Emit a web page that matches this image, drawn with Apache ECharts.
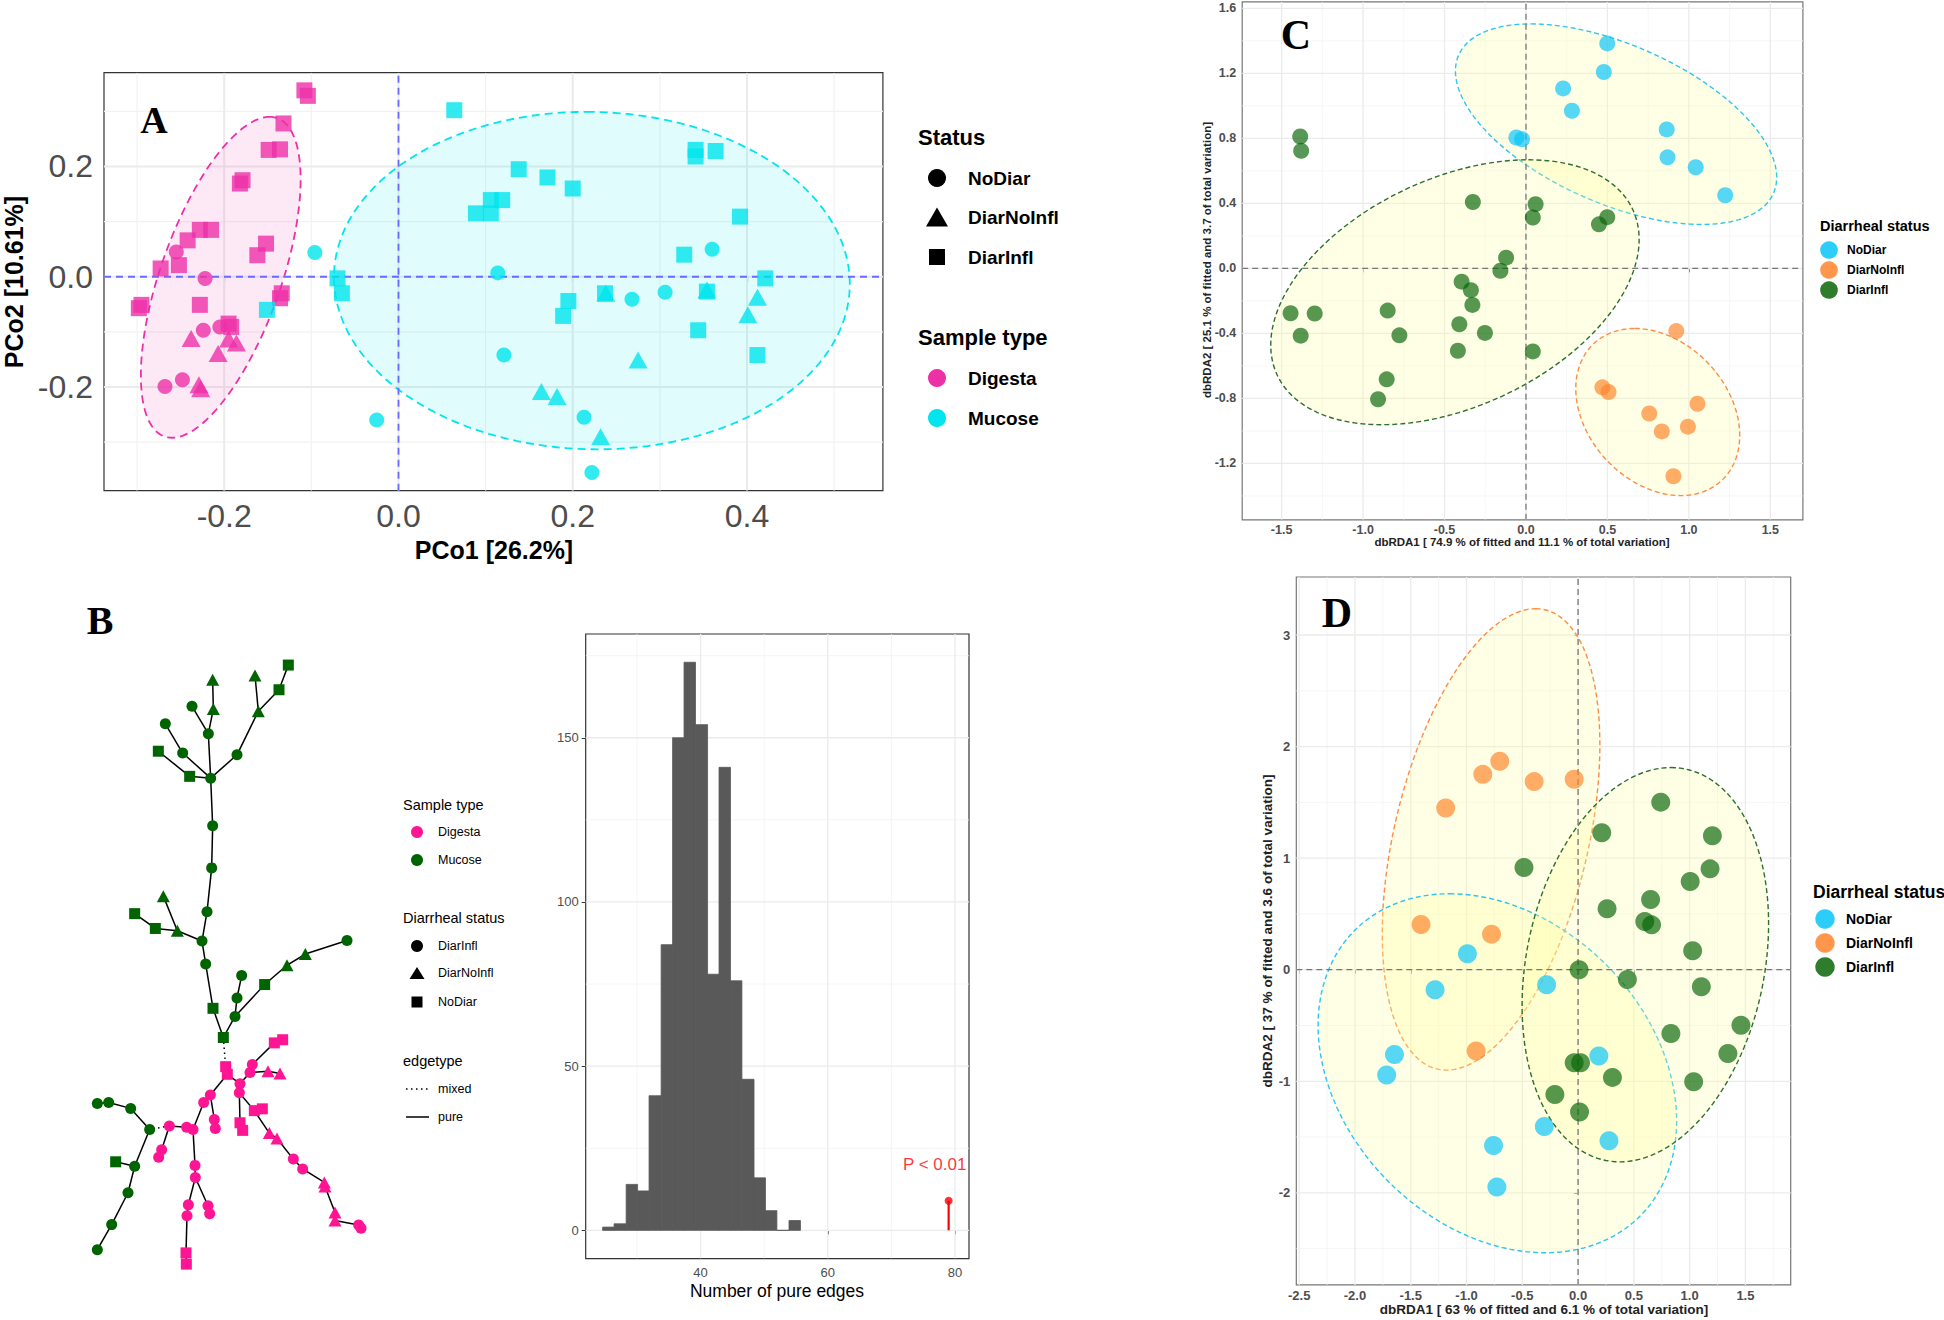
<!DOCTYPE html>
<html><head><meta charset="utf-8">
<script src="https://cdn.jsdelivr.net/npm/echarts@6/dist/echarts.min.js"></script>
<style>html,body{margin:0;padding:0;background:#fff}#c{width:1944px;height:1320px}</style>
</head><body><div id="c"></div>
<script>
// ---------------- Panel A data (PCoA) ----------------
const aXTicks = [-0.2, 0, 0.2, 0.4];
const aYTicks = [-0.2, 0, 0.2];
const aXMinor = [-0.3, -0.1, 0.1, 0.3, 0.5];
const aYMinor = [-0.3, -0.1, 0.1, 0.3];
const aDigestaSquare = [[-0.108,0.338],[-0.104,0.328],[-0.132,0.278],[-0.149,0.230],[-0.136,0.231],[-0.182,0.169],[-0.179,0.175],[-0.228,0.085],[-0.215,0.085],[-0.242,0.066],[-0.152,0.060],[-0.162,0.039],[-0.252,0.021],[-0.273,0.015],[-0.295,-0.051],[-0.298,-0.057],[-0.228,-0.051],[-0.134,-0.030],[-0.136,-0.039],[-0.195,-0.085],[-0.192,-0.091]];
const aDigestaCircle = [[-0.255,0.045],[-0.222,-0.003],[-0.224,-0.097],[-0.205,-0.091],[-0.268,-0.199],[-0.248,-0.187]];
const aDigestaTriangle = [[-0.238,-0.112],[-0.195,-0.113],[-0.186,-0.120],[-0.207,-0.139],[-0.229,-0.196],[-0.227,-0.203]];
const aMucoseSquare = [[0.064,0.302],[0.138,0.195],[0.171,0.180],[0.200,0.160],[0.106,0.139],[0.119,0.139],[0.089,0.115],[0.106,0.115],[0.341,0.230],[0.341,0.218],[0.364,0.228],[0.392,0.109],[0.328,0.040],[0.421,-0.003],[-0.070,-0.003],[-0.065,-0.030],[0.195,-0.044],[0.189,-0.071],[0.237,-0.030],[0.354,-0.027],[0.344,-0.097],[0.412,-0.142],[-0.151,-0.060]];
const aMucoseCircle = [[-0.096,0.044],[0.114,0.007],[0.360,0.050],[0.268,-0.041],[0.306,-0.028],[0.121,-0.142],[-0.025,-0.260],[0.213,-0.255],[0.222,-0.355]];
const aMucoseTriangle = [[0.238,-0.030],[0.354,-0.024],[0.412,-0.037],[0.401,-0.069],[0.275,-0.151],[0.164,-0.208],[0.182,-0.217],[0.232,-0.290]];
// ellipse: [centerX, centerY, topOffsetX, topOffsetY, horizontalHalfChord]
const aEllipseDigesta = [-0.204, -0.001, 0.056, 0.291, 0.0726];
const aEllipseMucose = [0.222, -0.007, -0.006, 0.306, 0.296];

// ---------------- Panel B data ----------------
// network nodes: [layoutX, layoutY, sampleType (D=Digesta, M=Mucose), status (c=DiarInfl, t=DiarNoInfl, s=NoDiar)]
const netNodes = [
 [685,145,'M','s'],[657,200,'M','s'],[585,168,'M','t'],[595,248,'M','t'],[458,178,'M','t'],[460,243,'M','t'],
 [396,237,'M','c'],[445,298,'M','c'],[316,276,'M','c'],[368,341,'M','c'],[295,337,'M','s'],[389,393,'M','s'],
 [452,397,'M','c'],[531,345,'M','c'],[458,503,'M','c'],[455,597,'M','c'],[441,695,'M','c'],[426,760,'M','c'],
 [352,737,'M','t'],[310,660,'M','t'],[286,732,'M','s'],[224,699,'M','s'],[437,811,'M','c'],[459,910,'M','s'],
 [490,975,'M','s'],[525,928,'M','c'],[531,887,'M','c'],[545,837,'M','c'],[614,857,'M','s'],[681,814,'M','t'],
 [736,789,'M','t'],[861,759,'M','c'],
 [497,1040,'D','s'],[502,1057,'D','s'],[540,1078,'D','c'],[538,1098,'D','c'],[570,1053,'D','c'],[577,1035,'D','c'],
 [643,987,'D','s'],[668,980,'D','s'],[624,1050,'D','t'],[660,1055,'D','t'],[540,1165,'D','s'],[548,1182,'D','s'],
 [583,1138,'D','s'],[607,1134,'D','s'],[628,1188,'D','t'],[651,1200,'D','t'],[700,1246,'D','c'],[728,1268,'D','c'],
 [793,1298,'D','t'],[795,1307,'D','t'],[825,1365,'D','t'],[825,1383,'D','t'],[896,1393,'D','c'],[903,1400,'D','c'],
 [451,1103,'D','c'],[431,1120,'D','c'],[463,1158,'D','c'],[466,1178,'D','c'],[380,1175,'D','c'],[399,1180,'D','c'],
 [328,1172,'D','c'],[305,1225,'D','c'],[296,1242,'D','c'],[405,1260,'D','c'],[406,1287,'D','c'],[385,1348,'D','c'],
 [381,1372,'D','c'],[444,1350,'D','c'],[449,1368,'D','c'],[378,1455,'D','s'],[379,1480,'D','s'],
 [269,1180,'M','c'],[212,1133,'M','c'],[146,1120,'M','c'],[112,1122,'M','c'],[224,1262,'M','c'],[167,1252,'M','s'],
 [204,1321,'M','c'],[155,1392,'M','c'],[112,1448,'M','c']
];
// links: [from, to, edgetype (p=pure, m=mixed)]
const netLinks = [
 [0,1,'p'],[1,3,'p'],[2,3,'p'],[3,13,'p'],[13,12,'p'],[4,5,'p'],[5,7,'p'],[6,7,'p'],[7,12,'p'],[8,9,'p'],[9,12,'p'],
 [10,11,'p'],[11,12,'p'],[12,14,'p'],[14,15,'p'],[15,16,'p'],[16,17,'p'],[17,18,'p'],[18,19,'p'],[18,20,'p'],[20,21,'p'],
 [17,22,'p'],[22,23,'p'],[23,24,'p'],[24,25,'p'],[25,26,'p'],[26,27,'p'],[25,28,'p'],[28,29,'p'],[29,30,'p'],[30,31,'p'],
 [24,32,'m'],
 [32,33,'p'],[33,34,'p'],[34,35,'p'],[34,36,'p'],[36,37,'p'],[37,38,'p'],[38,39,'p'],[36,40,'p'],[40,41,'p'],
 [35,42,'p'],[42,43,'p'],[35,44,'p'],[44,45,'p'],[44,46,'p'],[46,47,'p'],[47,48,'p'],[48,49,'p'],[49,50,'p'],[50,51,'p'],
 [51,52,'p'],[52,53,'p'],[53,54,'p'],[54,55,'p'],
 [33,56,'p'],[56,57,'p'],[56,58,'p'],[58,59,'p'],[57,61,'p'],[61,60,'p'],[60,62,'p'],[62,63,'p'],[63,64,'p'],[62,73,'m'],
 [61,65,'p'],[65,66,'p'],[66,67,'p'],[67,68,'p'],[68,71,'p'],[71,72,'p'],[66,69,'p'],[69,70,'p'],
 [73,74,'p'],[74,75,'p'],[75,76,'p'],[73,77,'p'],[77,78,'p'],[77,79,'p'],[79,80,'p'],[80,81,'p']
];
// histogram of pure edges under permutation
const histXTicks = [40, 60, 80];
const histYTicks = [0, 50, 100, 150];
const histXMinor = [30, 50, 70];
const histYMinor = [25, 75, 125, 175];
const histEdges = [24.6,26.4,28.3,30.1,31.9,33.8,35.6,37.4,39.2,41.1,42.9,44.7,46.5,48.4,50.2,52.0,53.9,55.7];
const histCounts = [1,2,14,12,41,87,150,173,154,78,141,76,46,16,6,0,3];
const observedPure = [[79,0],[79,9]];
const pLabel = [[76.8, 20, 'P < 0.01']];

// ---------------- Panel C data (dbRDA) ----------------
const cXTicks = [-1.5,-1.0,-0.5,0,0.5,1.0,1.5];
const cYTicks = [-1.2,-0.8,-0.4,0,0.4,0.8,1.2,1.6];
const cXMinor = [-1.25,-0.75,-0.25,0.25,0.75,1.25];
const cYMinor = [-1.4,-1.0,-0.6,-0.2,0.2,0.6,1.0,1.4];
const cNoDiar = [[0.499,1.384],[0.478,1.208],[0.228,1.107],[0.282,0.970],[-0.059,0.805],[-0.024,0.794],[0.864,0.855],[0.869,0.683],[1.042,0.622],[1.223,0.450]];
const cDiarNoInfl = [[0.923,-0.386],[0.469,-0.732],[0.507,-0.761],[0.757,-0.893],[1.053,-0.833],[0.834,-1.003],[0.994,-0.974],[0.905,-1.279]];
const cDiarInfl = [[-1.386,0.811],[-1.380,0.723],[-0.326,0.408],[0.059,0.395],[0.042,0.313],[0.448,0.271],[0.499,0.315],[-0.122,0.066],[-0.157,-0.015],[-0.395,-0.082],[-0.338,-0.134],[-0.329,-0.225],[-1.445,-0.276],[-1.297,-0.278],[-0.849,-0.260],[-1.383,-0.414],[-0.777,-0.412],[-0.409,-0.344],[-0.252,-0.397],[-0.418,-0.507],[0.042,-0.511],[-0.855,-0.683],[-0.908,-0.805]];
const cEllipseNoDiar = [0.553, 0.887, -0.523, 0.617, 0.836];
const cEllipseDiarInfl = [-0.436, -0.147, 0.451, 0.815, 1.037];
const cEllipseDiarNoInfl = [0.809, -0.884, -0.141, 0.514, 0.483];

// ---------------- Panel D data (dbRDA) ----------------
const dXTicks = [-2.5,-2.0,-1.5,-1.0,-0.5,0,0.5,1.0,1.5];
const dYTicks = [-2,-1,0,1,2,3];
const dXMinor = [-2.25,-1.75,-1.25,-0.75,-0.25,0.25,0.75,1.25,1.75];
const dYMinor = [-2.5,-1.5,-0.5,0.5,1.5,2.5];
const dNoDiar = [[-0.992,0.144],[-1.282,-0.179],[-0.282,-0.135],[-1.646,-0.760],[-1.716,-0.943],[0.186,-0.773],[-0.303,-1.406],[-0.758,-1.576],[0.277,-1.533],[-0.728,-1.948]];
const dDiarNoInfl = [[-0.702,1.869],[-0.854,1.751],[-0.394,1.686],[-0.035,1.707],[-1.187,1.450],[-1.408,0.406],[-0.776,0.319],[-0.914,-0.729]];
const dDiarInfl = [[0.741,1.502],[0.212,1.227],[1.204,1.201],[1.183,0.904],[-0.485,0.917],[1.005,0.790],[0.650,0.629],[0.260,0.546],[0.598,0.432],[0.659,0.402],[1.027,0.170],[0.009,0.000],[0.442,-0.087],[1.105,-0.153],[0.832,-0.572],[1.460,-0.498],[1.343,-0.751],[-0.035,-0.834],[0.022,-0.834],[0.308,-0.965],[1.036,-1.004],[-0.208,-1.118],[0.013,-1.275]];
const dEllipseDiarNoInfl = [-0.78, 1.168, 0.399, 2.068, 0.890];
const dEllipseNoDiar = [-0.7235, -0.928, -0.4285, 1.609, 1.549];
const dEllipseDiarInfl = [0.603, 0.045, 0.229, 1.767, 1.081];

// ---------------- styling ----------------
const FONT = '"Liberation Sans", Arial, Helvetica, sans-serif';
const SERIF = '"Liberation Serif", "Times New Roman", serif';
const MAG = '#EE30A7', CYAN = '#00E5EE';
const PINK_B = '#FF1493', GREEN_B = '#006400';
const BLUE = 'rgba(8,196,249,0.85)', ORANGE = 'rgba(255,132,43,0.85)', GREEN = 'rgba(8,102,8,0.85)';

const ranges = {
  A: {x: [-0.338, 0.556], y: [-0.388, 0.370]},
  N: {x: [0, 1260], y: [0, 1560]},
  H: {x: [21.94, 82.2], y: [-8.6, 181.6]},
  C: {x: [-1.742, 1.700], y: [-1.547, 1.640]},
  D: {x: [-2.526, 1.906], y: [-2.825, 3.520]}
};

function lineSeries(gi, r, xs, ys, style, z) {
  const data = xs.map(v => [v, r.y[0], 0]).concat(ys.map(v => [r.x[0], v, 1]));
  return {
    type: 'custom', xAxisIndex: gi, yAxisIndex: gi, z: z, silent: true, clip: true, data: data,
    renderItem: function (p, api) {
      const d = api.value(2);
      const v = d === 0 ? api.value(0) : api.value(1);
      const a = d === 0 ? api.coord([v, r.y[0]]) : api.coord([r.x[0], v]);
      const b = d === 0 ? api.coord([v, r.y[1]]) : api.coord([r.x[1], v]);
      return {type: 'line', shape: {x1: a[0], y1: a[1], x2: b[0], y2: b[1]}, style: style};
    }
  };
}

function ellipseSeries(gi, ells, z) {
  return {
    type: 'custom', xAxisIndex: gi, yAxisIndex: gi, z: z, silent: true, clip: true,
    data: ells.map(e => e.p),
    renderItem: function (p, api) {
      const e = ells[p.dataIndex];
      const cx = api.value(0), cy = api.value(1), ax = api.value(2), ay = api.value(3), bx = api.value(4);
      const pts = [];
      for (let i = 0; i < 160; i++) {
        const t = i / 160 * 2 * Math.PI;
        pts.push(api.coord([cx + ax * Math.cos(t) + bx * Math.sin(t), cy + ay * Math.cos(t)]));
      }
      return {type: 'polygon', shape: {points: pts},
        style: {fill: e.fill, stroke: e.stroke, lineWidth: e.lw, lineDash: e.dash}};
    }
  };
}

function scatter(gi, data, symbol, size, color, z) {
  return {type: 'scatter', xAxisIndex: gi, yAxisIndex: gi, data: data, symbol: symbol, symbolSize: size,
    itemStyle: {color: color}, z: z || 4, silent: true};
}

function valAxis(gi, r, ticks, fmt, font, margin, extra) {
  return Object.assign({
    gridIndex: gi, type: 'value', min: r[0], max: r[1],
    axisLine: {show: false}, splitLine: {show: false},
    axisTick: {show: true, customValues: ticks, length: 4, lineStyle: {color: '#333', width: 1}},
    axisLabel: {customValues: ticks, formatter: fmt, margin: margin,
      fontFamily: FONT, fontSize: font.size, fontWeight: font.weight, color: font.color}
  }, extra || {});
}

const f1 = v => Number(v).toFixed(1);
const fi = v => String(Math.round(v));

const grids = [
  {left: 104, top: 72.7, width: 778.9, height: 418, show: true, borderColor: '#333', borderWidth: 1.2, backgroundColor: '#fff'},
  {left: 60, top: 600, width: 420, height: 700},
  {left: 585.7, top: 634, width: 383.3, height: 624.6, show: true, borderColor: '#333', borderWidth: 1.2, backgroundColor: '#fff'},
  {left: 1242.2, top: 1.8, width: 560.7, height: 518, show: true, borderColor: '#777', borderWidth: 1.2, backgroundColor: '#fff'},
  {left: 1296.3, top: 577, width: 494.4, height: 707.9, show: true, borderColor: '#777', borderWidth: 1.2, backgroundColor: '#fff'}
];

const xAxes = [
  valAxis(0, ranges.A.x, aXTicks, f1, {size: 32, weight: 'normal', color: '#4d4d4d'}, 9, {axisTick: {show: true, customValues: aXTicks, length: 5, lineStyle: {color: '#333', width: 1.2}}}),
  {gridIndex: 1, type: 'value', min: 0, max: 1260, show: false},
  valAxis(2, ranges.H.x, histXTicks, fi, {size: 13, weight: 'normal', color: '#4d4d4d'}, 7),
  valAxis(3, ranges.C.x, cXTicks, f1, {size: 12.5, weight: 'bold', color: '#4d4d4d'}, 4),
  valAxis(4, ranges.D.x, dXTicks, f1, {size: 13, weight: 'bold', color: '#4d4d4d'}, 4)
];
const yAxes = [
  valAxis(0, ranges.A.y, aYTicks, f1, {size: 32, weight: 'normal', color: '#4d4d4d'}, 11, {axisTick: {show: true, customValues: aYTicks, length: 5, lineStyle: {color: '#333', width: 1.2}}}),
  {gridIndex: 1, type: 'value', min: 0, max: 1560, inverse: true, show: false},
  valAxis(2, ranges.H.y, histYTicks, fi, {size: 13, weight: 'normal', color: '#4d4d4d'}, 7),
  valAxis(3, ranges.C.y, cYTicks, f1, {size: 12.5, weight: 'bold', color: '#4d4d4d'}, 6),
  valAxis(4, ranges.D.y, dYTicks, fi, {size: 13, weight: 'bold', color: '#4d4d4d'}, 6)
];

const series = [];
// Panel A
series.push(lineSeries(0, ranges.A, aXMinor, aYMinor, {stroke: '#F2F2F2', lineWidth: 1.2}, 1));
series.push(lineSeries(0, ranges.A, aXTicks, aYTicks, {stroke: '#EBEBEB', lineWidth: 2}, 1));
series.push(ellipseSeries(0, [
  {p: aEllipseDigesta, fill: 'rgba(238,48,167,0.11)', stroke: MAG, lw: 1.8, dash: [8, 5]},
  {p: aEllipseMucose, fill: 'rgba(0,229,238,0.12)', stroke: CYAN, lw: 1.8, dash: [8, 5]}
], 2));
series.push(lineSeries(0, ranges.A, [0], [0], {stroke: '#6b6bff', lineWidth: 1.8, lineDash: [7, 5]}, 3));
series.push(scatter(0, aDigestaSquare, 'rect', 16, MAG));
series.push(scatter(0, aDigestaCircle, 'circle', 15, MAG));
series.push(scatter(0, aDigestaTriangle, 'triangle', [19, 17], MAG));
series.push(scatter(0, aMucoseSquare, 'rect', 16, CYAN));
series.push(scatter(0, aMucoseCircle, 'circle', 15, CYAN));
series.push(scatter(0, aMucoseTriangle, 'triangle', [19, 17], CYAN));

// Panel B network
const shapeMap = {c: 'circle', t: 'triangle', s: 'rect'};
const sizeMap = {c: 11, t: [13, 12], s: 11};
series.push({
  type: 'graph', coordinateSystem: 'cartesian2d', xAxisIndex: 1, yAxisIndex: 1, z: 3, silent: true,
  data: netNodes.map(n => ({value: [n[0], n[1]], symbol: shapeMap[n[3]], symbolSize: sizeMap[n[3]],
    itemStyle: {color: n[2] === 'D' ? PINK_B : GREEN_B}})),
  links: netLinks.map(l => ({source: l[0], target: l[1],
    lineStyle: l[2] === 'm' ? {type: [1.5, 3.5], width: 1.5, color: '#000'} : {type: 'solid', width: 1.5, color: '#000'}})),
  lineStyle: {color: '#000', width: 1.5, opacity: 1},
  label: {show: false}
});

// Panel B histogram
series.push(lineSeries(2, ranges.H, histXMinor, histYMinor, {stroke: '#F2F2F2', lineWidth: 0.8}, 1));
series.push(lineSeries(2, ranges.H, histXTicks, histYTicks, {stroke: '#EBEBEB', lineWidth: 1.3}, 1));
series.push({
  type: 'custom', xAxisIndex: 2, yAxisIndex: 2, z: 3, silent: true,
  data: histCounts.map((c, i) => [histEdges[i], histEdges[i + 1], c]),
  encode: {x: [0, 1], y: 2},
  renderItem: function (p, api) {
    const a = api.coord([api.value(0), 0]);
    const b = api.coord([api.value(1), api.value(2)]);
    return {type: 'rect', shape: {x: a[0], y: b[1], width: b[0] - a[0], height: a[1] - b[1]},
      style: {fill: '#595959', stroke: '#595959', lineWidth: 0.8}};
  }
});
series.push({type: 'line', xAxisIndex: 2, yAxisIndex: 2, data: observedPure, symbol: 'none',
  lineStyle: {color: '#FF0000', width: 2.2}, z: 4, silent: true});
series.push({type: 'scatter', xAxisIndex: 2, yAxisIndex: 2, data: [observedPure[1]], symbolSize: 8,
  itemStyle: {color: '#FF0000'}, z: 5, silent: true});
series.push({type: 'scatter', xAxisIndex: 2, yAxisIndex: 2, data: pLabel.map(d => [d[0], d[1]]), symbolSize: 0, z: 5, silent: true,
  label: {show: true, position: 'inside', formatter: () => pLabel[0][2], color: '#FF0000', fontSize: 17, fontFamily: FONT}});

// Panel C
series.push(lineSeries(3, ranges.C, cXMinor, cYMinor, {stroke: '#F4F4F4', lineWidth: 0.8}, 1));
series.push(lineSeries(3, ranges.C, cXTicks, cYTicks, {stroke: '#EBEBEB', lineWidth: 1.3}, 1));
series.push(ellipseSeries(3, [
  {p: cEllipseNoDiar, fill: 'rgba(255,255,160,0.28)', stroke: '#2CC6F2', lw: 1.4, dash: [5, 3]},
  {p: cEllipseDiarInfl, fill: 'rgba(255,255,160,0.28)', stroke: '#2E6E2E', lw: 1.4, dash: [5, 3]},
  {p: cEllipseDiarNoInfl, fill: 'rgba(255,255,160,0.28)', stroke: '#FF8C42', lw: 1.4, dash: [5, 3]}
], 2));
series.push(lineSeries(3, ranges.C, [0], [0], {stroke: '#777', lineWidth: 1.3, lineDash: [6, 4]}, 3));
series.push(scatter(3, cNoDiar, 'circle', 16, BLUE));
series.push(scatter(3, cDiarNoInfl, 'circle', 16, ORANGE));
series.push(scatter(3, cDiarInfl, 'circle', 16, GREEN));

// Panel D
series.push(lineSeries(4, ranges.D, dXMinor, dYMinor, {stroke: '#F4F4F4', lineWidth: 0.8}, 1));
series.push(lineSeries(4, ranges.D, dXTicks, dYTicks, {stroke: '#EBEBEB', lineWidth: 1.3}, 1));
series.push(ellipseSeries(4, [
  {p: dEllipseDiarNoInfl, fill: 'rgba(255,255,160,0.28)', stroke: '#FF8C42', lw: 1.4, dash: [5, 3]},
  {p: dEllipseNoDiar, fill: 'rgba(255,255,160,0.28)', stroke: '#2CC6F2', lw: 1.4, dash: [5, 3]},
  {p: dEllipseDiarInfl, fill: 'rgba(255,255,160,0.28)', stroke: '#2E6E2E', lw: 1.4, dash: [5, 3]}
], 2));
series.push(lineSeries(4, ranges.D, [0], [0], {stroke: '#777', lineWidth: 1.3, lineDash: [6, 4]}, 3));
series.push(scatter(4, dNoDiar, 'circle', 19, BLUE));
series.push(scatter(4, dDiarNoInfl, 'circle', 19, ORANGE));
series.push(scatter(4, dDiarInfl, 'circle', 19, GREEN));

// ---------------- text / legends ----------------
function txt(x, y, text, font, opts) {
  opts = opts || {};
  return {type: 'text', x: x, y: y, rotation: opts.rot || 0, z: 100, silent: true,
    style: {text: text, font: font, fill: opts.color || '#000',
      textAlign: opts.align || 'left', align: opts.align || 'left',
      textVerticalAlign: 'middle', verticalAlign: 'middle'}};
}
function circ(x, y, r, fill) { return {type: 'circle', z: 100, silent: true, shape: {cx: x, cy: y, r: r}, style: {fill: fill}}; }
function sq(x, y, s, fill) { return {type: 'rect', z: 100, silent: true, shape: {x: x - s / 2, y: y - s / 2, width: s, height: s}, style: {fill: fill}}; }
function tri(x, y, w, h, fill) { return {type: 'polygon', z: 100, silent: true, shape: {points: [[x - w / 2, y + h / 2], [x + w / 2, y + h / 2], [x, y - h / 2]]}, style: {fill: fill}}; }
function seg(x1, x2, y, dash) { return {type: 'line', z: 100, silent: true, shape: {x1: x1, y1: y, x2: x2, y2: y}, style: {stroke: '#000', lineWidth: 1.5, lineDash: dash || null}}; }

const B = w => 'bold ' + w + 'px ' + FONT;
const R = w => w + 'px ' + FONT;
const graphics = [
  // panel letters
  txt(154, 120, 'A', 'bold 38px ' + SERIF, {align: 'center'}),
  txt(100, 620, 'B', 'bold 40px ' + SERIF, {align: 'center'}),
  txt(1296, 35, 'C', 'bold 42px ' + SERIF, {align: 'center'}),
  txt(1337, 613, 'D', 'bold 42px ' + SERIF, {align: 'center'}),
  // A axis titles
  txt(494, 550, 'PCo1 [26.2%]', B(25), {align: 'center'}),
  txt(14, 282, 'PCo2 [10.61%]', B(25), {align: 'center', rot: Math.PI / 2}),
  // A legend
  txt(918, 137, 'Status', B(22)),
  circ(937, 178, 9, '#000'), txt(968, 178, 'NoDiar', B(19)),
  tri(937, 217, 22, 19, '#000'), txt(968, 217, 'DiarNoInfl', B(19)),
  sq(937, 257, 16, '#000'), txt(968, 257, 'DiarInfl', B(19)),
  txt(918, 337, 'Sample type', B(22)),
  circ(937, 378, 9, MAG), txt(968, 378, 'Digesta', B(19)),
  circ(937, 418, 9, CYAN), txt(968, 418, 'Mucose', B(19)),
  // B legend
  txt(403, 805, 'Sample type', R(14.5)),
  circ(417, 832, 6, PINK_B), txt(438, 832, 'Digesta', R(12.5)),
  circ(417, 860, 6, GREEN_B), txt(438, 860, 'Mucose', R(12.5)),
  txt(403, 918, 'Diarrheal status', R(14.5)),
  circ(417, 946, 6, '#000'), txt(438, 946, 'DiarInfl', R(12.5)),
  tri(417, 973, 15, 12, '#000'), txt(438, 973, 'DiarNoInfl', R(12.5)),
  sq(417, 1002, 11, '#000'), txt(438, 1002, 'NoDiar', R(12.5)),
  txt(403, 1061, 'edgetype', R(14.5)),
  seg(406, 429, 1089, [1.5, 3.5]), txt(438, 1089, 'mixed', R(12.5)),
  seg(406, 429, 1117), txt(438, 1117, 'pure', R(12.5)),
  // B histogram title
  txt(777, 1291, 'Number of pure edges', R(17.5), {align: 'center'}),
  // C axis titles
  txt(1522, 542, 'dbRDA1 [ 74.9 % of fitted and 11.1 % of total variation]', B(11.5), {align: 'center', color: '#222'}),
  txt(1207, 260, 'dbRDA2 [ 25.1 % of fitted and 3.7 of total variation]', B(11.5), {align: 'center', rot: Math.PI / 2, color: '#222'}),
  // C legend
  txt(1820, 226, 'Diarrheal status', B(14.5)),
  circ(1829, 250, 8.8, BLUE), txt(1847, 250, 'NoDiar', B(12)),
  circ(1829, 270, 8.8, ORANGE), txt(1847, 270, 'DiarNoInfl', B(12)),
  circ(1829, 290, 8.8, GREEN), txt(1847, 290, 'DiarInfl', B(12)),
  // D axis titles
  txt(1544, 1309, 'dbRDA1 [ 63 % of fitted and 6.1 % of total variation]', B(13.5), {align: 'center', color: '#222'}),
  txt(1267, 931, 'dbRDA2 [ 37 % of fitted and 3.6 of total variation]', B(13.5), {align: 'center', rot: Math.PI / 2, color: '#222'}),
  // D legend
  txt(1813, 892, 'Diarrheal status', B(17.5)),
  circ(1825, 919, 9.7, BLUE), txt(1846, 919, 'NoDiar', B(14)),
  circ(1825, 943, 9.7, ORANGE), txt(1846, 943, 'DiarNoInfl', B(14)),
  circ(1825, 967, 9.7, GREEN), txt(1846, 967, 'DiarInfl', B(14))
];

const chart = echarts.init(document.getElementById('c'), null, {renderer: 'svg'});
chart.setOption({
  animation: false,
  backgroundColor: '#fff',
  grid: grids,
  xAxis: xAxes,
  yAxis: yAxes,
  series: series,
  graphic: {elements: graphics}
});
</script>
</body></html>
